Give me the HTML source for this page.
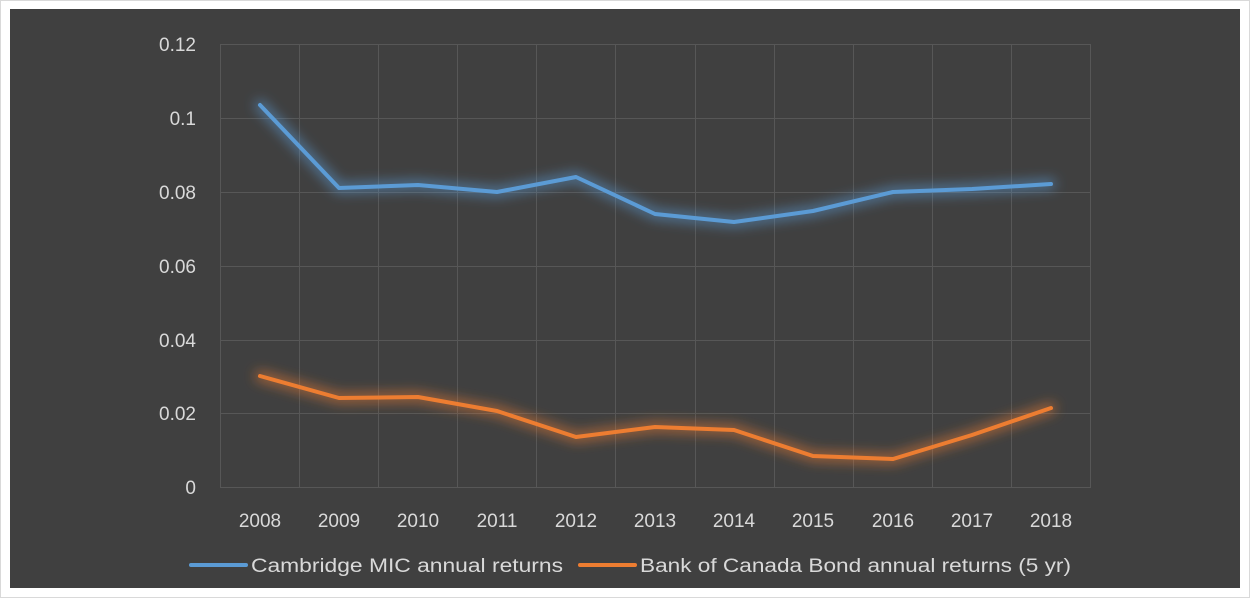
<!DOCTYPE html>
<html><head><meta charset="utf-8"><style>
html,body{margin:0;padding:0;background:#fff;}
svg{display:block;}
text{font-family:"Liberation Sans",sans-serif;fill:#d9d9d9;font-size:19px;}
</style></head><body>
<svg width="1250" height="598" viewBox="0 0 1250 598">
<defs>
<filter id="g" x="-20%" y="-50%" width="140%" height="200%"><feGaussianBlur stdDeviation="6"/></filter>
</defs>
<rect x="0.5" y="0.5" width="1249" height="597" fill="#fff" stroke="#d9d9d9" stroke-width="1"/>
<rect x="10" y="9" width="1230" height="579" fill="#404040"/>
<g stroke="#575757" stroke-width="1">
<line x1="220" y1="44.5" x2="1091" y2="44.5"/>
<line x1="220" y1="118.5" x2="1091" y2="118.5"/>
<line x1="220" y1="192.5" x2="1091" y2="192.5"/>
<line x1="220" y1="266.5" x2="1091" y2="266.5"/>
<line x1="220" y1="340.5" x2="1091" y2="340.5"/>
<line x1="220" y1="413.5" x2="1091" y2="413.5"/>
<line x1="220" y1="487.5" x2="1091" y2="487.5"/>
<line x1="220.5" y1="44" x2="220.5" y2="487"/>
<line x1="299.5" y1="44" x2="299.5" y2="487"/>
<line x1="378.5" y1="44" x2="378.5" y2="487"/>
<line x1="457.5" y1="44" x2="457.5" y2="487"/>
<line x1="536.5" y1="44" x2="536.5" y2="487"/>
<line x1="615.5" y1="44" x2="615.5" y2="487"/>
<line x1="695.5" y1="44" x2="695.5" y2="487"/>
<line x1="774.5" y1="44" x2="774.5" y2="487"/>
<line x1="853.5" y1="44" x2="853.5" y2="487"/>
<line x1="932.5" y1="44" x2="932.5" y2="487"/>
<line x1="1011.5" y1="44" x2="1011.5" y2="487"/>
<line x1="1090.5" y1="44" x2="1090.5" y2="487"/>
</g>
<g text-anchor="end">
<text x="196" y="51">0.12</text>
<text x="196" y="125">0.1</text>
<text x="196" y="199">0.08</text>
<text x="196" y="273">0.06</text>
<text x="196" y="347">0.04</text>
<text x="196" y="420">0.02</text>
<text x="196" y="494">0</text>
</g>
<g text-anchor="middle">
<text x="260" y="527">2008</text><text x="339" y="527">2009</text><text x="418" y="527">2010</text>
<text x="497" y="527">2011</text><text x="576" y="527">2012</text><text x="655" y="527">2013</text>
<text x="734" y="527">2014</text><text x="813" y="527">2015</text><text x="893" y="527">2016</text>
<text x="972" y="527">2017</text><text x="1051" y="527">2018</text>
</g>
<g fill="none" stroke-linejoin="round" stroke-linecap="round">
<polyline filter="url(#g)" stroke="#5b9bd5" stroke-opacity="0.6" stroke-width="10" points="260,105 339,188 418,185 497,192 576,177 655,214 734,222 813,211 893,192 972,189 1051,184"/>
<polyline stroke="#5b9bd5" stroke-width="4" points="260,105 339,188 418,185 497,192 576,177 655,214 734,222 813,211 893,192 972,189 1051,184"/>
<polyline filter="url(#g)" stroke="#ed7d31" stroke-opacity="0.6" stroke-width="10" points="260,376 339,398 418,397 497,411 576,437 655,427 734,430 813,456 893,459 972,435 1051,408"/>
<polyline stroke="#ed7d31" stroke-width="4" points="260,376 339,398 418,397 497,411 576,437 655,427 734,430 813,456 893,459 972,435 1051,408"/>
</g>
<line x1="191" y1="565" x2="246" y2="565" stroke="#5b9bd5" stroke-width="4" stroke-linecap="round"/>
<text x="251" y="572" font-size="20" textLength="312" lengthAdjust="spacingAndGlyphs">Cambridge MIC annual returns</text>
<line x1="580" y1="565" x2="635" y2="565" stroke="#ed7d31" stroke-width="4" stroke-linecap="round"/>
<text x="640" y="572" font-size="20" textLength="431" lengthAdjust="spacingAndGlyphs">Bank of Canada Bond annual returns (5 yr)</text>
</svg>
</body></html>
